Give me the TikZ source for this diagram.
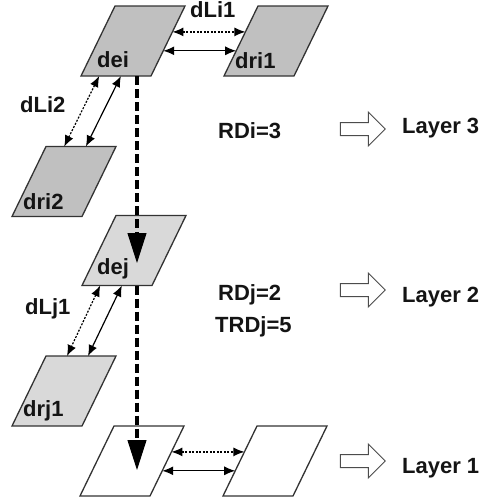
\documentclass[tikz,border=0pt]{standalone}
\usepackage{fontspec}
\setmainfont{Liberation Sans}
\usetikzlibrary{arrows.meta, shapes.arrows, calc}
\definecolor{darkfill}{RGB}{192,192,192}
\definecolor{lightfill}{RGB}{217,217,217}
\begin{document}
\begin{tikzpicture}[x=1pt, y=-1pt]
    \tikzset{
        pics/layer/.style={code={
            \coordinate (-c) at (0,0);
            \draw[pic actions, line width=1.3pt, draw=black!80] (-52,35) coordinate (-bl) -- (18,35) coordinate (-br)
                -- (52,-35) coordinate (-tr) -- (-18,-35) coordinate (-tl) -- cycle;
        }},
        txt/.style={font=\bfseries\fontsize{22}{26}\selectfont, text=black!92, inner sep=0pt, anchor=base west},
        link/.style={{Latex[length=11pt,width=9pt]}-{Latex[length=11pt,width=9pt]}, line width=1.2pt},
        dotlink/.style={link, dash pattern=on 2pt off 1.5pt},
        down/.style={-{Triangle[length=30pt,width=19pt,line width=1pt]}, line width=4pt, dash pattern=on 9pt off 4pt},
        blk/.style={single arrow, draw=black!70, fill=white, line width=1pt, minimum height=45pt,
            minimum width=33pt, single arrow head extend=10.5pt, inner xsep=0pt, inner ysep=6pt, single arrow tip angle=90}
    }
    \useasboundingbox (0,0) rectangle (486,501);

    % Nodes
    \pic[fill=darkfill] (dei) at (133,41) {layer};
    \pic[fill=darkfill] (dri1) at (276,41) {layer};
    \pic[fill=darkfill] (dri2) at (64,181.5) {layer};
    \pic[fill=lightfill] (dej) at (134,250.5) {layer};
    \pic[fill=lightfill] (drj1) at (64,391) {layer};
    \pic[fill=white] (la) at (132,461) {layer};
    \pic[fill=white] (lb) at (275,461) {layer};

    \node[txt] (tdei) at (97,67) {dei};
    \node[txt] (tdri1) at (235,68) {dri1};
    \node[txt] (tdri2) at (23,209) {dri2};
    \node[txt] (tdej) at (97,274) {dej};
    \node[txt] (tdrj1) at (23,416) {drj1};

    % Edges
    \draw[dotlink] ($(dei-br)!0.63!(dei-tr)$) -- ($(dri1-bl)!0.63!(dri1-tl)$);
    \draw[link] ($(dei-br)!0.36!(dei-tr)$) -- ($(dri1-bl)!0.36!(dri1-tl)$);
    \draw[dotlink] ($(dei-bl)!0.26!(dei-br)$) -- ($(dri2-tl)!0.26!(dri2-tr)$);
    \draw[link] ($(dei-bl)!0.57!(dei-br)$) -- ($(dri2-tl)!0.57!(dri2-tr)$);
    \draw[dotlink] ($(dej-bl)!0.26!(dej-br)$) -- ($(drj1-tl)!0.3!(drj1-tr)$);
    \draw[link] ($(dej-bl)!0.57!(dej-br)$) -- ($(drj1-tl)!0.6!(drj1-tr)$);
    \draw[dotlink] ($(la-br)!0.63!(la-tr)$) -- ($(lb-bl)!0.63!(lb-tl)$);
    \draw[link] ($(la-br)!0.36!(la-tr)$) -- ($(lb-bl)!0.36!(lb-tl)$);
    \draw[down] ($(dei-c)+(4,35)$) -- ($(dej-c)+(3,12.5)$);
    \draw[down] ($(dej-c)+(3,35)$) -- ($(la-c)+(5,9)$);

    \node[txt] (dli1) at (190,17) {dLi1};
    \node[txt] (dli2) at (20,112) {dLi2};
    \node[txt] (dlj1) at (25,314) {dLj1};

    % Right side
    \node[txt] (rdi) at (218,138) {RDi=3};
    \node[txt] (rdj) at (218,300) {RDj=2};
    \node[txt] (trdj) at (215,332) {TRDj=5};
    \node[blk] (b3) at (359.5,129) {};
    \node[blk] (b2) at (359.5,290) {};
    \node[blk] (b1) at (359.5,461) {};
    \node[txt] (l3) at (402,133) {Layer 3};
    \node[txt] (l2) at (402,302) {Layer 2};
    \node[txt] (l1) at (402,473) {Layer 1};
\end{tikzpicture}
\end{document}
